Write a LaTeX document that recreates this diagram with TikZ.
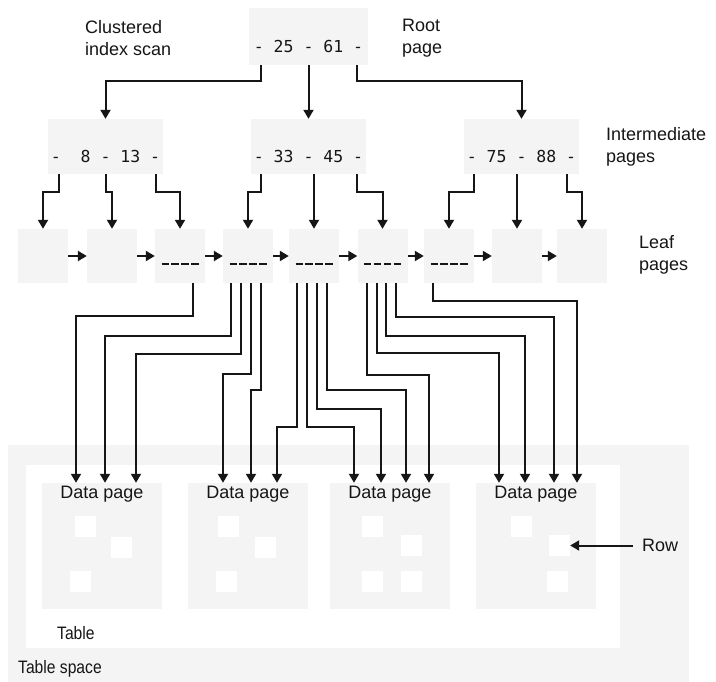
\documentclass[tikz,border=0pt]{standalone}
\usepackage{fontspec}
\setmainfont{Liberation Sans}
\newfontfamily\monof{DejaVu Sans Mono}
\usetikzlibrary{arrows.meta}
\definecolor{ink}{HTML}{161616}
\definecolor{pagegray}{HTML}{F4F4F4}
\tikzset{
  pg/.style={fill=pagegray, draw=none, inner sep=0pt},
  rootbox/.style={pg, minimum width=119pt, minimum height=57pt},
  intbox/.style={pg, minimum width=115pt, minimum height=55pt},
  leafbox/.style={pg, minimum width=50pt, minimum height=54pt},
  datapage/.style={pg, minimum width=120pt, minimum height=126pt},
  rowsq/.style={fill=white, draw=none, inner sep=0pt, minimum size=21pt},
  keytext/.style={font=\monof\fontsize{16.5}{18}\selectfont, text=ink, inner sep=0pt},
  lbl/.style={font=\fontsize{18}{22}\selectfont, text=ink, inner sep=0pt, anchor=west, align=left},
  arr/.style={draw=ink, line width=2pt, -{Triangle[length=9pt,width=10pt]}},
  dashmark/.style={draw=ink, line width=2.8pt, dash pattern=on 7.3pt off 2.6pt},
}
\newcommand\dconn[5]{\draw[arr] (#1.south -| #2,0) -- (#2,#3) -| (#4.north -| #5,0);}
\begin{document}
\begin{tikzpicture}[x=1pt,y=-1pt]
\useasboundingbox (0,0) rectangle (716,682);
\fill[white] (0,0) rectangle (716,682);

% table space and table
\fill[pagegray] (8,445) rectangle (689,682);
\fill[white] (26,465) rectangle (620,648);
\node[lbl, xscale=0.87] (tbl) at (57,633) {Table};
\node[lbl, xscale=0.87] (tbs) at (18,669) {Table space};

% root and intermediate pages
\node[rootbox] (root) at (308.5,36.5) {};
\node[keytext] (roott) at ([yshift=-10pt]root.center) {-~25~-~61~-};
\node[intbox] (i1) at (105.5,146.5) {};
\node[intbox] (i2) at (308.5,146.5) {};
\node[intbox] (i3) at (521.5,146.5) {};
\node[keytext] (i1t) at ([yshift=-10pt]i1.center) {-~~8~-~13~-};
\node[keytext] (i2t) at ([yshift=-10pt]i2.center) {-~33~-~45~-};
\node[keytext] (i3t) at ([yshift=-10pt]i3.center) {-~75~-~88~-};

% labels
\node[lbl] (lcl) at (85,38) {Clustered\\index scan};
\node[lbl] (lroot) at (402,38) {Root\\page};
\node[lbl] (lint) at (606,146.5) {Intermediate\\pages};
\node[lbl] (lleaf) at (639,255) {Leaf\\pages};

% leaf pages
\foreach \n/\x in {1/43,2/112,3/180,4/248,5/314,6/382.5,7/449,8/517,9/582}
  \node[leafbox] (l\n) at (\x,256) {};
\foreach \n in {3,4,5,6,7}
  \draw[dashmark] ([xshift=-18.5pt,yshift=-8pt]l\n.center) -- ++(37,0);
\foreach \a/\b in {1/2,2/3,3/4,4/5,5/6,6/7,7/8,8/9}
  \draw[arr] (l\a) -- (l\b);

% root -> intermediate
\draw[arr] (root.south -| 261,0) -- ++(0,16) -| (i1.north);
\draw[arr] (root.south) -- (i2.north);
\draw[arr] (root.south -| 357,0) -- ++(0,16) -| (i3.north);

% intermediate -> leaf
\draw[arr] (i1.south -| 59,0) -- ++(0,18) -| (l1.north);
\draw[arr] (i1.south -| 106,0) -- ++(0,18) -| (l2.north);
\draw[arr] (i1.south -| 156,0) -- ++(0,18) -| (l3.north);
\draw[arr] (i2.south -| 261,0) -- ++(0,18) -| (l4.north);
\draw[arr] (i2.south -| 314,0) -- (l5.north);
\draw[arr] (i2.south -| 357,0) -- ++(0,18) -| (l6.north);
\draw[arr] (i3.south -| 474,0) -- ++(0,18) -| (l7.north);
\draw[arr] (i3.south -| 517,0) -- (l8.north);
\draw[arr] (i3.south -| 567,0) -- ++(0,18) -| (l9.north);

% data pages
\foreach \n/\x in {1/102,2/248,3/390,4/536}{
  \node[datapage] (d\n) at (\x,546) {};
  \node[lbl, anchor=center] (d\n t) at ([yshift=-11pt]d\n.north) {Data page};
}
% rows
\node[rowsq] (r11) at (85.5,526.5) {};
\node[rowsq] (r12) at (121.5,547.5) {};
\node[rowsq] (r13) at (80.5,581.5) {};
\node[rowsq] (r21) at (228.5,526.5) {};
\node[rowsq] (r22) at (265.5,547.5) {};
\node[rowsq] (r23) at (226.5,581.5) {};
\node[rowsq] (r31) at (372.5,526.5) {};
\node[rowsq] (r32) at (411.5,545.5) {};
\node[rowsq] (r33) at (372.5,581.5) {};
\node[rowsq] (r34) at (411.5,581.5) {};
\node[rowsq] (r41) at (521.5,526.5) {};
\node[rowsq] (r42) at (559.5,545.5) {};
\node[rowsq] (r43) at (557.5,581.5) {};
\node[lbl] (rowl) at (642,545.5) {Row};
\draw[arr] ([xshift=-9pt]rowl.west) -- (r42.east);

% leaf -> data
\dconn{l3}{193}{316}{d1}{76}
\dconn{l4}{231}{336}{d1}{105}
\dconn{l4}{241}{354}{d1}{136}
\dconn{l4}{251}{374}{d2}{223}
\dconn{l4}{261}{390}{d2}{251}
\dconn{l5}{297}{427}{d2}{277}
\dconn{l5}{307}{427}{d3}{354}
\dconn{l5}{317}{409}{d3}{381}
\dconn{l5}{327}{390}{d3}{406}
\dconn{l6}{367}{375}{d3}{429}
\dconn{l6}{377}{353}{d4}{499}
\dconn{l6}{386}{336}{d4}{525}
\dconn{l6}{396}{317}{d4}{554}
\dconn{l7}{433}{301}{d4}{577}
\end{tikzpicture}
\end{document}
